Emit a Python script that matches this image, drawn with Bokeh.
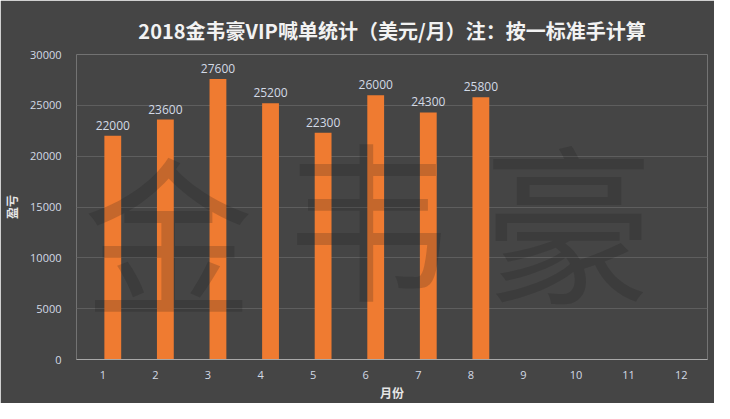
from bokeh.plotting import figure
from bokeh.models import FixedTicker, Range1d, Title
from bokeh.core.properties import value
from bokeh.embed import file_html
from bokeh.resources import INLINE

# ---- data ----
months = [1, 2, 3, 4, 5, 6, 7, 8, 9, 10, 11, 12]
profit_months = [1, 2, 3, 4, 5, 6, 7, 8]
profit = [22000, 23600, 27600, 25200, 22300, 26000, 24300, 25800]
y_ticks = [0, 5000, 10000, 15000, 20000, 25000, 30000]
title_text = "2018金韦豪VIP喊单统计（美元/月）注：按一标准手计算"
x_label = "月份"
y_label = "盈亏"
watermark_chars = ["金", "韦", "豪"]
watermark_x = [2.25, 6.05, 9.85]
watermark_y = [12800, 14300, 14000]

# ---- style ----
BG = "#454545"
BAR = "#ef7b31"
TICK = "#d3dae6"
BAR_SHIFT = 0.19
BAR_W = 0.32
CJK = "Noto Sans CJK SC"

p = figure(width=714, height=403, output_backend="svg", toolbar_location=None,
           x_range=Range1d(0.5, 12.5), y_range=Range1d(0, 30000),
           min_border_left=75, min_border_right=7, min_border_top=54, min_border_bottom=43,
           background_fill_color=BG, border_fill_color=BG, outline_line_color=None)

p.title = Title(text=title_text, align="center", text_font=CJK, text_font_size="20px",
                text_font_style="bold", text_color="#f2f2f2", standoff=20)

bx = [m + BAR_SHIFT for m in profit_months]
p.vbar(x=bx, top=profit, width=BAR_W, bottom=0, fill_color=BAR, line_color=None)

# watermark
p.text(x=watermark_x, y=watermark_y, text=watermark_chars, text_font=value(CJK),
       text_font_size="170px", text_color="#1a1a1a", text_alpha=0.2,
       text_align="center", text_baseline="middle")

# data labels
p.text(x=bx, y=profit, text=[str(v) for v in profit], text_font=value("Open Sans"),
       text_font_size="12px", text_color=TICK, text_align="center",
       text_baseline="bottom", y_offset=-6)

# axes
p.xaxis.ticker = FixedTicker(ticks=months)
p.yaxis.ticker = FixedTicker(ticks=y_ticks)
for ax in (p.xaxis[0], p.yaxis[0]):
    ax.major_tick_line_color = None
    ax.minor_tick_line_color = None
    ax.major_label_text_color = TICK
    ax.major_label_text_font = "Open Sans"
    ax.major_label_text_font_size = "11px"
    ax.axis_label_text_color = "#e6e6e6"
    ax.axis_label_text_font = CJK
    ax.axis_label_text_font_size = "12px"
    ax.axis_label_text_font_style = "bold"
p.xaxis.axis_line_color = "#a8a8a8"
p.xaxis.major_label_standoff = 5
p.xaxis.axis_label = x_label
p.xaxis.axis_label_standoff = 2
p.yaxis.axis_line_color = None
p.yaxis.major_label_standoff = 9
p.yaxis.axis_label = y_label
p.yaxis.axis_label_standoff = 7

p.xgrid.grid_line_color = None
p.ygrid.grid_line_color = "#5e5e5e"
p.ygrid.grid_line_width = 1

open("out.html", "w").write(file_html(p, INLINE))
